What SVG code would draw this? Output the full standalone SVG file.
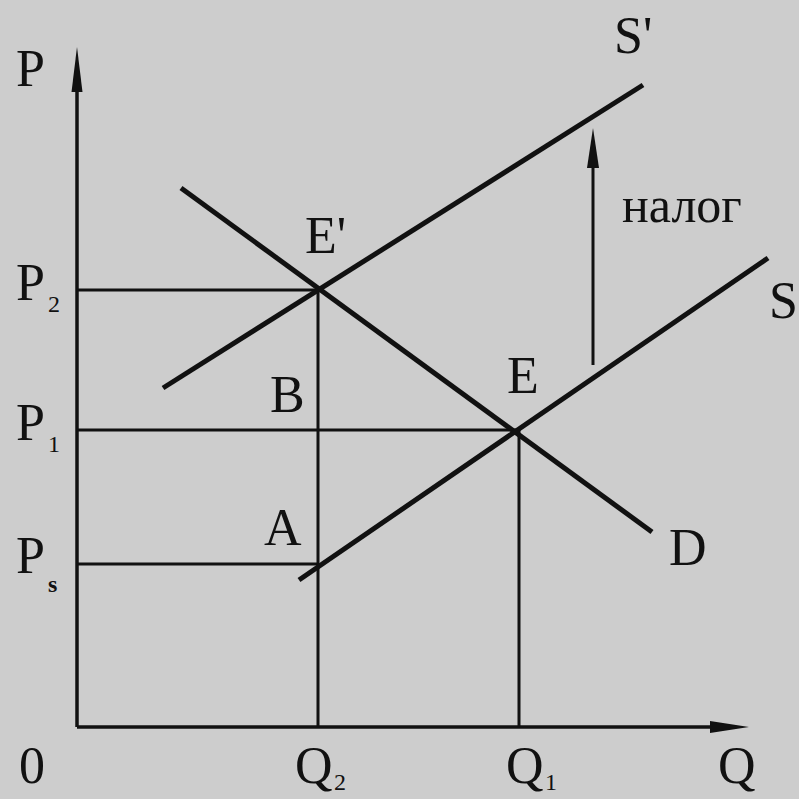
<svg xmlns="http://www.w3.org/2000/svg" width="799" height="799" viewBox="0 0 799 799">
<style>
.t{font-family:"Liberation Serif","Times New Roman",serif;font-size:52px;fill:#111}
.sub{font-family:"Liberation Serif","Times New Roman",serif;font-size:24px;fill:#111}
.curve{stroke:#111;stroke-width:5;fill:none;stroke-linecap:butt}
.guide{stroke:#111;stroke-width:3;fill:none}
.axis{stroke:#111;stroke-width:3.5;fill:none}
.head{fill:#111}
</style>
<rect width="799" height="799" fill="#cdcdcd"/>
<g id="axes">
<line class="axis" x1="77" y1="727" x2="77" y2="85"/>
<polygon class="head" points="77,47 82.5,92 71.5,92"/>
<line class="axis" x1="77" y1="727" x2="715" y2="727"/>
<polygon class="head" points="749,727 710,721 710,733"/>
</g>
<g id="guides">
<line class="guide" x1="77" y1="290" x2="318" y2="290"/>
<line class="guide" x1="77" y1="430" x2="518" y2="430"/>
<line class="guide" x1="77" y1="564" x2="318" y2="564"/>
<line class="guide" x1="318" y1="290" x2="318" y2="727"/>
<line class="guide" x1="519" y1="430" x2="519" y2="727"/>
</g>
<g id="curves">
<line id="D" class="curve" x1="181" y1="188" x2="652" y2="532"/>
<line id="S" class="curve" x1="299" y1="580" x2="768" y2="258"/>
<line id="S-prime" class="curve" x1="163" y1="388" x2="643" y2="85"/>
</g>
<g id="tax-arrow">
<line class="guide" x1="593" y1="365" x2="593" y2="160"/>
<polygon class="head" points="593,128 599,168 587,168"/>
</g>
<g id="labels">
<text class="t" x="16" y="86">P</text>
<text class="t" x="614" y="53">S'</text>
<text class="t" x="622" y="222" style="font-size:50px">налог</text>
<text class="t" x="769" y="318">S</text>
<text class="t" x="305" y="253">E'</text>
<text class="t" x="16" y="300">P</text><text class="sub" x="48" y="312">2</text>
<text class="t" x="270" y="412">B</text>
<text class="t" x="507" y="393">E</text>
<text class="t" x="16" y="440">P</text><text class="sub" x="48" y="452">1</text>
<text class="t" x="264" y="545">A</text>
<text class="t" x="669" y="565">D</text>
<text class="t" x="16" y="573">P</text><text class="sub" x="48" y="592" style="font-weight:bold">s</text>
<text class="t" x="19" y="783">0</text>
<text class="t" x="295" y="783">Q</text><text class="sub" x="334" y="790">2</text>
<text class="t" x="506" y="783">Q</text><text class="sub" x="545" y="790">1</text>
<text class="t" x="718" y="783">Q</text>
</g>
</svg>
